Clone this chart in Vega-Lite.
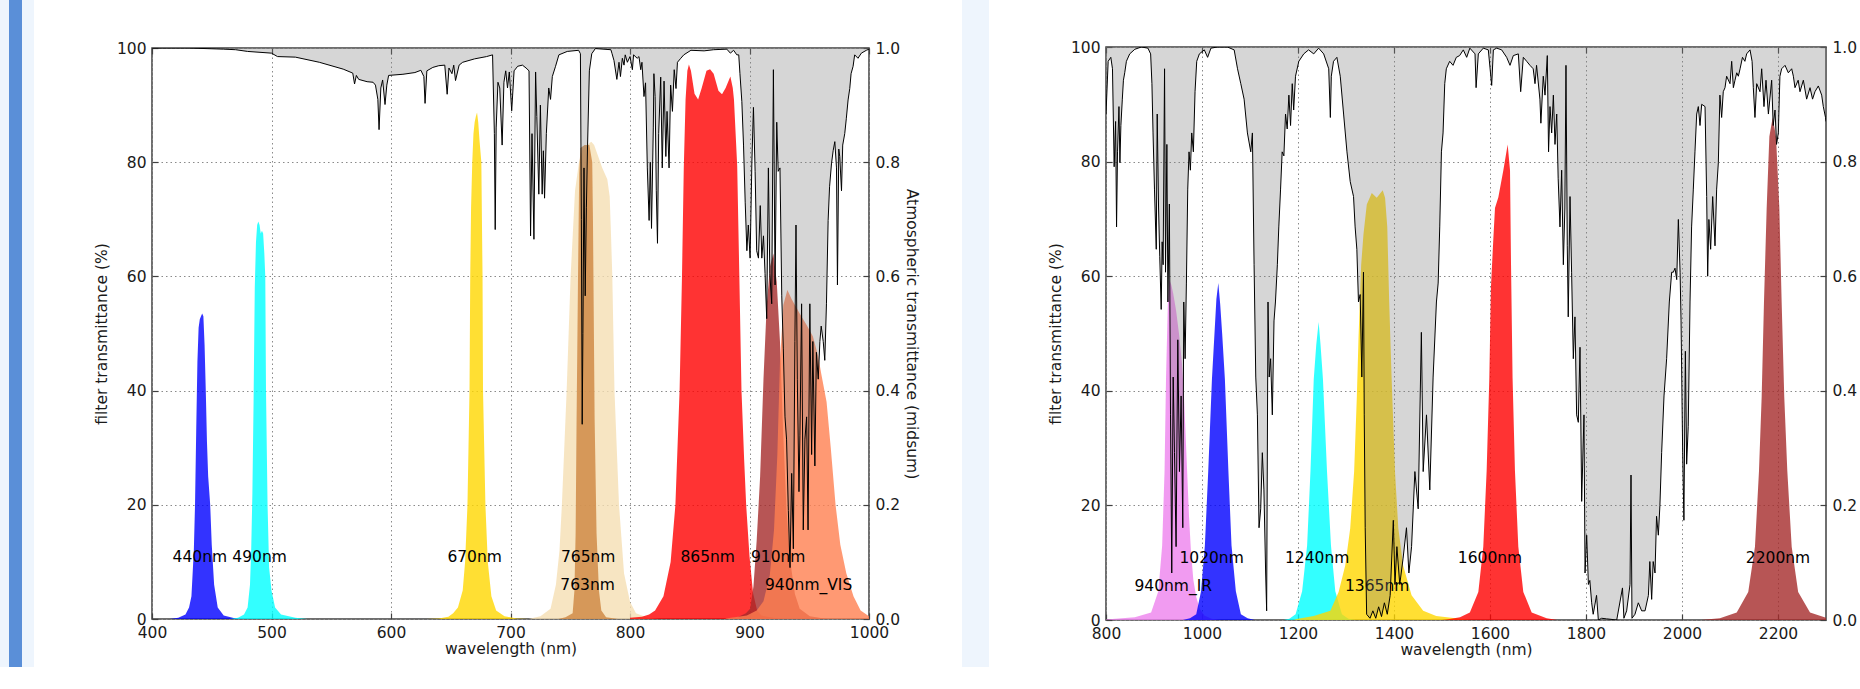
{
"$schema": "https://vega.github.io/schema/vega-lite/v6.json",
"background": "white",
"padding": 0,
"config": {
 "view": {"stroke": null},
 "font": "DejaVu Sans",
 "axis": {"domain": false, "labelFont": "DejaVu Sans", "labelFontSize": 15.5, "labelColor": "#1a1a1a", "titleFont": "DejaVu Sans", "titleFontSize": 15.5, "titleFontWeight": "normal", "titleColor": "#1a1a1a", "tickColor": "#404040", "tickSize": -6, "tickWidth": 1.2, "labelPadding": 12, "gridColor": "#8a8a8a", "gridDash": [1.5, 3], "gridWidth": 1, "labelFlush": false, "labelOverlap": false}
},
"datasets": {
 "atmL": [
{"wl":400,"t":1.0},{"wl":430,"t":1.0},{"wl":460,"t":0.998},{"wl":470,"t":0.997},{"wl":480,"t":0.994},{"wl":500,"t":0.991},{"wl":505,"t":0.985},{"wl":520,"t":0.984},{"wl":540,"t":0.975},{"wl":560,"t":0.963},{"wl":568,"t":0.956},{"wl":569.5,"t":0.937},{"wl":571,"t":0.952},{"wl":573,"t":0.945},{"wl":580,"t":0.941},{"wl":585,"t":0.94},{"wl":587,"t":0.935},{"wl":589,"t":0.91},{"wl":590,"t":0.857},{"wl":591.5,"t":0.93},{"wl":593,"t":0.944},{"wl":595,"t":0.901},{"wl":596.5,"t":0.935},{"wl":598,"t":0.952},{"wl":610,"t":0.954},{"wl":620,"t":0.957},{"wl":625,"t":0.961},{"wl":627.5,"t":0.95},{"wl":628.5,"t":0.903},{"wl":630,"t":0.96},{"wl":635,"t":0.966},{"wl":640,"t":0.969},{"wl":645,"t":0.97},{"wl":647,"t":0.919},{"wl":648.5,"t":0.965},{"wl":651,"t":0.955},{"wl":652.5,"t":0.97},{"wl":654,"t":0.943},{"wl":657,"t":0.97},{"wl":660,"t":0.975},{"wl":670,"t":0.981},{"wl":680,"t":0.985},{"wl":685,"t":0.988},{"wl":686.5,"t":0.85},{"wl":687.2,"t":0.682},{"wl":688,"t":0.86},{"wl":689.5,"t":0.94},{"wl":691,"t":0.93},{"wl":693,"t":0.83},{"wl":694.5,"t":0.94},{"wl":696,"t":0.96},{"wl":697.5,"t":0.93},{"wl":699,"t":0.958},{"wl":701,"t":0.89},{"wl":703,"t":0.96},{"wl":706,"t":0.968},{"wl":710,"t":0.97},{"wl":713,"t":0.965},{"wl":715.5,"t":0.96},{"wl":716.8,"t":0.671},{"wl":718,"t":0.85},{"wl":719.6,"t":0.665},{"wl":721,"t":0.958},{"wl":722,"t":0.88},{"wl":723.7,"t":0.744},{"wl":725,"t":0.9},{"wl":726.5,"t":0.744},{"wl":727.5,"t":0.82},{"wl":728.5,"t":0.737},{"wl":730,"t":0.85},{"wl":732,"t":0.93},{"wl":733.5,"t":0.91},{"wl":735,"t":0.95},{"wl":737.7,"t":0.968},{"wl":740.5,"t":0.988},{"wl":747.5,"t":0.994},{"wl":757,"t":0.996},{"wl":758.5,"t":0.99},{"wl":759.3,"t":0.7},{"wl":760,"t":0.341},{"wl":760.6,"t":0.5},{"wl":761.5,"t":0.79},{"wl":762.5,"t":0.566},{"wl":763.5,"t":0.72},{"wl":764.5,"t":0.83},{"wl":766,"t":0.96},{"wl":768,"t":0.99},{"wl":771,"t":0.999},{"wl":784,"t":0.997},{"wl":785,"t":0.99},{"wl":786.6,"t":0.978},{"wl":789,"t":0.945},{"wl":790.8,"t":0.975},{"wl":792,"t":0.95},{"wl":793.6,"t":0.982},{"wl":795,"t":0.97},{"wl":796,"t":0.988},{"wl":797.8,"t":0.975},{"wl":800,"t":0.985},{"wl":802,"t":0.962},{"wl":803,"t":0.988},{"wl":806,"t":0.982},{"wl":807.5,"t":0.985},{"wl":809,"t":0.962},{"wl":810,"t":0.975},{"wl":811.7,"t":0.915},{"wl":813,"t":0.939},{"wl":814.5,"t":0.79},{"wl":816,"t":0.698},{"wl":817,"t":0.8},{"wl":818,"t":0.684},{"wl":819.5,"t":0.86},{"wl":820,"t":0.955},{"wl":821,"t":0.915},{"wl":822,"t":0.75},{"wl":823,"t":0.658},{"wl":824,"t":0.85},{"wl":825.7,"t":0.949},{"wl":827,"t":0.79},{"wl":828.5,"t":0.942},{"wl":830,"t":0.81},{"wl":831,"t":0.889},{"wl":832.7,"t":0.79},{"wl":834,"t":0.935},{"wl":835.5,"t":0.889},{"wl":837,"t":0.962},{"wl":838.5,"t":0.929},{"wl":839.7,"t":0.975},{"wl":842.5,"t":0.982},{"wl":845,"t":0.988},{"wl":851,"t":0.996},{"wl":862,"t":0.995},{"wl":870,"t":0.997},{"wl":881,"t":0.998},{"wl":884,"t":0.991},{"wl":886.7,"t":0.996},{"wl":889.4,"t":0.988},{"wl":891,"t":0.988},{"wl":892,"t":0.955},{"wl":893.6,"t":0.906},{"wl":895,"t":0.83},{"wl":896.4,"t":0.73},{"wl":897.8,"t":0.645},{"wl":899,"t":0.69},{"wl":900.5,"t":0.632},{"wl":902,"t":0.8},{"wl":903.3,"t":0.896},{"wl":904.7,"t":0.784},{"wl":906,"t":0.645},{"wl":907.5,"t":0.632},{"wl":909,"t":0.724},{"wl":910.3,"t":0.632},{"wl":911.7,"t":0.671},{"wl":913,"t":0.605},{"wl":914.4,"t":0.526},{"wl":915.8,"t":0.79},{"wl":917,"t":0.605},{"wl":918.6,"t":0.552},{"wl":920,"t":0.962},{"wl":921.4,"t":0.585},{"wl":922.8,"t":0.87},{"wl":924,"t":0.784},{"wl":925.5,"t":0.79},{"wl":927,"t":0.566},{"wl":928.3,"t":0.473},{"wl":929.7,"t":0.354},{"wl":931,"t":0.315},{"wl":932.5,"t":0.19},{"wl":933.9,"t":0.09},{"wl":935.3,"t":0.255},{"wl":936.7,"t":0.123},{"wl":938,"t":0.486},{"wl":938.9,"t":0.69},{"wl":940,"t":0.42},{"wl":941.4,"t":0.223},{"wl":942.2,"t":0.322},{"wl":943.6,"t":0.552},{"wl":945,"t":0.156},{"wl":946.4,"t":0.315},{"wl":947.8,"t":0.354},{"wl":949,"t":0.156},{"wl":950.5,"t":0.552},{"wl":952,"t":0.288},{"wl":953,"t":0.486},{"wl":954.7,"t":0.268},{"wl":956,"t":0.467},{"wl":957.5,"t":0.42},{"wl":958.9,"t":0.486},{"wl":960,"t":0.513},{"wl":961.7,"t":0.486},{"wl":963,"t":0.453},{"wl":964.4,"t":0.552},{"wl":965.8,"t":0.698},{"wl":967,"t":0.757},{"wl":968.6,"t":0.797},{"wl":970,"t":0.82},{"wl":971.4,"t":0.836},{"wl":972.8,"t":0.79},{"wl":973.6,"t":0.585},{"wl":974.7,"t":0.823},{"wl":975.5,"t":0.81},{"wl":977,"t":0.75},{"wl":978,"t":0.83},{"wl":979.7,"t":0.85},{"wl":981,"t":0.876},{"wl":982.5,"t":0.909},{"wl":983.9,"t":0.929},{"wl":985,"t":0.955},{"wl":986.7,"t":0.968},{"wl":988,"t":0.988},{"wl":990.8,"t":0.982},{"wl":993.6,"t":0.991},{"wl":997.8,"t":0.996},{"wl":1000,"t":0.998}
 ],
 "atmR": [
{"wl":800,"t":0.883},{"wl":804.5,"t":0.975},{"wl":810,"t":0.982},{"wl":813.5,"t":0.962},{"wl":817,"t":0.791},{"wl":820,"t":0.87},{"wl":822,"t":0.686},{"wl":824,"t":0.817},{"wl":827,"t":0.896},{"wl":829,"t":0.798},{"wl":831,"t":0.863},{"wl":834,"t":0.909},{"wl":836.3,"t":0.942},{"wl":839,"t":0.955},{"wl":842.5,"t":0.975},{"wl":849.4,"t":0.988},{"wl":860,"t":0.996},{"wl":873.6,"t":1.0},{"wl":887.4,"t":0.998},{"wl":893,"t":0.988},{"wl":895.7,"t":0.936},{"wl":898,"t":0.85},{"wl":901,"t":0.752},{"wl":904.7,"t":0.647},{"wl":906.7,"t":0.883},{"wl":909.5,"t":0.719},{"wl":912,"t":0.634},{"wl":915,"t":0.542},{"wl":917,"t":0.66},{"wl":919,"t":0.62},{"wl":922,"t":0.962},{"wl":924,"t":0.607},{"wl":926.8,"t":0.83},{"wl":929,"t":0.555},{"wl":932,"t":0.726},{"wl":934.4,"t":0.358},{"wl":937,"t":0.082},{"wl":940,"t":0.424},{"wl":942.7,"t":0.292},{"wl":946,"t":0.128},{"wl":949.6,"t":0.489},{"wl":953,"t":0.259},{"wl":956.5,"t":0.391},{"wl":960,"t":0.161},{"wl":962,"t":0.555},{"wl":964.8,"t":0.456},{"wl":967.5,"t":0.588},{"wl":970.3,"t":0.752},{"wl":973,"t":0.817},{"wl":975.8,"t":0.785},{"wl":978.6,"t":0.85},{"wl":982,"t":0.817},{"wl":985.5,"t":0.922},{"wl":989,"t":0.975},{"wl":994.5,"t":0.988},{"wl":1004.8,"t":0.995},{"wl":1011.7,"t":0.982},{"wl":1018.6,"t":0.998},{"wl":1032.5,"t":1.0},{"wl":1053,"t":1.0},{"wl":1067,"t":0.995},{"wl":1074,"t":0.962},{"wl":1080.8,"t":0.936},{"wl":1087.7,"t":0.909},{"wl":1094.6,"t":0.85},{"wl":1101.6,"t":0.817},{"wl":1105,"t":0.85},{"wl":1108.5,"t":0.62},{"wl":1112,"t":0.424},{"wl":1115.4,"t":0.358},{"wl":1118.8,"t":0.161},{"wl":1122.3,"t":0.194},{"wl":1125.7,"t":0.292},{"wl":1129,"t":0.227},{"wl":1132.6,"t":0.082},{"wl":1134.7,"t":0.016},{"wl":1137.5,"t":0.555},{"wl":1140,"t":0.424},{"wl":1143,"t":0.456},{"wl":1146.5,"t":0.358},{"wl":1150,"t":0.522},{"wl":1153,"t":0.555},{"wl":1157,"t":0.62},{"wl":1160,"t":0.686},{"wl":1163.7,"t":0.752},{"wl":1167,"t":0.817},{"wl":1170.6,"t":0.81},{"wl":1174,"t":0.883},{"wl":1177.5,"t":0.857},{"wl":1181,"t":0.916},{"wl":1184.5,"t":0.863},{"wl":1188,"t":0.936},{"wl":1191,"t":0.89},{"wl":1194.8,"t":0.949},{"wl":1201.7,"t":0.975},{"wl":1212,"t":0.988},{"wl":1222,"t":0.995},{"wl":1232.8,"t":0.988},{"wl":1243,"t":0.998},{"wl":1253.5,"t":0.988},{"wl":1264,"t":0.962},{"wl":1267.4,"t":0.877},{"wl":1269.4,"t":0.949},{"wl":1274,"t":0.975},{"wl":1281,"t":0.982},{"wl":1288,"t":0.949},{"wl":1295,"t":0.883},{"wl":1302,"t":0.817},{"wl":1308.8,"t":0.765},{"wl":1315.7,"t":0.739},{"wl":1319,"t":0.686},{"wl":1322.6,"t":0.647},{"wl":1326,"t":0.555},{"wl":1329.5,"t":0.568},{"wl":1333,"t":0.424},{"wl":1336.4,"t":0.607},{"wl":1338,"t":0.358},{"wl":1340,"t":0.161},{"wl":1343,"t":0.01},{"wl":1350,"t":0.003},{"wl":1356,"t":0.016},{"wl":1362,"t":0.003},{"wl":1368,"t":0.023},{"wl":1374,"t":0.006},{"wl":1380,"t":0.03},{"wl":1386,"t":0.01},{"wl":1392,"t":0.043},{"wl":1398.6,"t":0.174},{"wl":1402,"t":0.062},{"wl":1406,"t":0.128},{"wl":1412,"t":0.062},{"wl":1419,"t":0.108},{"wl":1426,"t":0.161},{"wl":1431,"t":0.082},{"wl":1436.6,"t":0.128},{"wl":1443.5,"t":0.259},{"wl":1450.4,"t":0.194},{"wl":1457,"t":0.502},{"wl":1460.8,"t":0.259},{"wl":1467.7,"t":0.358},{"wl":1474.6,"t":0.227},{"wl":1481.5,"t":0.424},{"wl":1488.4,"t":0.555},{"wl":1492,"t":0.588},{"wl":1495.3,"t":0.686},{"wl":1498.8,"t":0.817},{"wl":1502.2,"t":0.85},{"wl":1505.7,"t":0.936},{"wl":1509,"t":0.962},{"wl":1516,"t":0.975},{"wl":1523,"t":0.968},{"wl":1529.8,"t":0.982},{"wl":1536.7,"t":0.985},{"wl":1544.4,"t":0.995},{"wl":1551.4,"t":0.982},{"wl":1558,"t":0.998},{"wl":1568.8,"t":0.988},{"wl":1571,"t":0.929},{"wl":1575.7,"t":0.988},{"wl":1586,"t":0.998},{"wl":1596.5,"t":0.995},{"wl":1603.5,"t":0.933},{"wl":1607,"t":0.995},{"wl":1614,"t":0.998},{"wl":1624.3,"t":0.995},{"wl":1634.7,"t":0.982},{"wl":1641.7,"t":0.968},{"wl":1648.6,"t":0.985},{"wl":1659,"t":0.988},{"wl":1663.9,"t":0.922},{"wl":1669.4,"t":0.982},{"wl":1676.4,"t":0.975},{"wl":1683.3,"t":0.968},{"wl":1690,"t":0.962},{"wl":1693.75,"t":0.936},{"wl":1697,"t":0.968},{"wl":1704,"t":0.909},{"wl":1706,"t":0.867},{"wl":1711,"t":0.949},{"wl":1714.6,"t":0.916},{"wl":1719.4,"t":0.985},{"wl":1722,"t":0.817},{"wl":1725,"t":0.896},{"wl":1728.5,"t":0.85},{"wl":1732,"t":0.916},{"wl":1735.4,"t":0.83},{"wl":1739,"t":0.883},{"wl":1742,"t":0.771},{"wl":1745.8,"t":0.686},{"wl":1749.3,"t":0.785},{"wl":1752.8,"t":0.62},{"wl":1756,"t":0.719},{"wl":1758.3,"t":0.968},{"wl":1761,"t":0.653},{"wl":1763,"t":0.529},{"wl":1766.7,"t":0.739},{"wl":1770,"t":0.607},{"wl":1773.6,"t":0.456},{"wl":1777,"t":0.529},{"wl":1780.5,"t":0.358},{"wl":1784,"t":0.345},{"wl":1787.5,"t":0.476},{"wl":1791,"t":0.207},{"wl":1795.8,"t":0.358},{"wl":1798,"t":0.082},{"wl":1801.4,"t":0.148},{"wl":1805,"t":0.062},{"wl":1808,"t":0.069},{"wl":1811.8,"t":0.03},{"wl":1815,"t":0.01},{"wl":1822,"t":0.043},{"wl":1825.7,"t":0.0},{"wl":1832.6,"t":0.003},{"wl":1843,"t":0.002},{"wl":1864,"t":0.0},{"wl":1876,"t":0.056},{"wl":1879,"t":0.003},{"wl":1884.7,"t":0.016},{"wl":1891.7,"t":0.062},{"wl":1893.75,"t":0.253},{"wl":1895.8,"t":0.003},{"wl":1902,"t":0.01},{"wl":1909,"t":0.03},{"wl":1916,"t":0.016},{"wl":1923,"t":0.016},{"wl":1930,"t":0.043},{"wl":1933,"t":0.102},{"wl":1936.8,"t":0.036},{"wl":1940,"t":0.102},{"wl":1943.75,"t":0.082},{"wl":1947,"t":0.181},{"wl":1950.7,"t":0.148},{"wl":1954,"t":0.2},{"wl":1957.6,"t":0.292},{"wl":1962.5,"t":0.391},{"wl":1968,"t":0.456},{"wl":1973.6,"t":0.555},{"wl":1978.5,"t":0.607},{"wl":1982,"t":0.607},{"wl":1985.4,"t":0.614},{"wl":1989,"t":0.594},{"wl":1992.4,"t":0.699},{"wl":1996,"t":0.607},{"wl":1998,"t":0.522},{"wl":2001.4,"t":0.292},{"wl":2004,"t":0.174},{"wl":2007,"t":0.469},{"wl":2009.7,"t":0.272},{"wl":2013,"t":0.338},{"wl":2016.7,"t":0.555},{"wl":2020,"t":0.686},{"wl":2023.6,"t":0.752},{"wl":2027,"t":0.817},{"wl":2030.6,"t":0.883},{"wl":2034,"t":0.896},{"wl":2037.5,"t":0.863},{"wl":2041,"t":0.9},{"wl":2048,"t":0.896},{"wl":2051.4,"t":0.739},{"wl":2053.5,"t":0.6},{"wl":2056,"t":0.699},{"wl":2059.7,"t":0.647},{"wl":2063.9,"t":0.739},{"wl":2068.75,"t":0.653},{"wl":2072.2,"t":0.752},{"wl":2075.7,"t":0.798},{"wl":2079,"t":0.916},{"wl":2082.6,"t":0.877},{"wl":2086,"t":0.922},{"wl":2089.6,"t":0.929},{"wl":2093,"t":0.949},{"wl":2100,"t":0.936},{"wl":2103.5,"t":0.975},{"wl":2107,"t":0.929},{"wl":2110.4,"t":0.942},{"wl":2114,"t":0.955},{"wl":2117.4,"t":0.949},{"wl":2121,"t":0.962},{"wl":2126,"t":0.982},{"wl":2131,"t":0.975},{"wl":2134.7,"t":0.988},{"wl":2141.7,"t":0.995},{"wl":2146,"t":0.975},{"wl":2148.6,"t":0.929},{"wl":2152,"t":0.877},{"wl":2155.6,"t":0.936},{"wl":2162.5,"t":0.922},{"wl":2166,"t":0.962},{"wl":2170.8,"t":0.896},{"wl":2175,"t":0.942},{"wl":2180,"t":0.883},{"wl":2186.8,"t":0.942},{"wl":2190,"t":0.863},{"wl":2193.75,"t":0.89},{"wl":2197,"t":0.83},{"wl":2200.7,"t":0.85},{"wl":2204,"t":0.949},{"wl":2207.6,"t":0.962},{"wl":2214.6,"t":0.968},{"wl":2221.5,"t":0.955},{"wl":2228.5,"t":0.962},{"wl":2232,"t":0.949},{"wl":2235.4,"t":0.929},{"wl":2242,"t":0.942},{"wl":2245.8,"t":0.922},{"wl":2252.8,"t":0.942},{"wl":2259.7,"t":0.909},{"wl":2266.7,"t":0.929},{"wl":2272,"t":0.909},{"wl":2277,"t":0.922},{"wl":2284,"t":0.932},{"wl":2291,"t":0.916},{"wl":2294.4,"t":0.896},{"wl":2299,"t":0.877},{"wl":2300,"t":0.87}
 ],
 "filtL": [
{"filter":"440nm","wl":415,"pct":0},{"filter":"440nm","wl":422,"pct":0.2},{"filter":"440nm","wl":428,"pct":0.8},{"filter":"440nm","wl":431,"pct":2},{"filter":"440nm","wl":433,"pct":4},{"filter":"440nm","wl":435,"pct":12},{"filter":"440nm","wl":436,"pct":20},{"filter":"440nm","wl":437,"pct":33},{"filter":"440nm","wl":438,"pct":45},{"filter":"440nm","wl":439,"pct":51},{"filter":"440nm","wl":440,"pct":52.5},{"filter":"440nm","wl":441,"pct":53},{"filter":"440nm","wl":442,"pct":53.5},{"filter":"440nm","wl":443,"pct":53},{"filter":"440nm","wl":444,"pct":48},{"filter":"440nm","wl":445,"pct":40},{"filter":"440nm","wl":446,"pct":31},{"filter":"440nm","wl":447,"pct":25},{"filter":"440nm","wl":448.7,"pct":20},{"filter":"440nm","wl":450,"pct":13},{"filter":"440nm","wl":452,"pct":6},{"filter":"440nm","wl":455,"pct":2},{"filter":"440nm","wl":460,"pct":0.6},{"filter":"440nm","wl":470,"pct":0.1},{"filter":"440nm","wl":480,"pct":0},
{"filter":"490nm","wl":465,"pct":0},{"filter":"490nm","wl":472,"pct":0.2},{"filter":"490nm","wl":477,"pct":0.8},{"filter":"490nm","wl":480,"pct":2},{"filter":"490nm","wl":482,"pct":6},{"filter":"490nm","wl":483,"pct":12},{"filter":"490nm","wl":484,"pct":22},{"filter":"490nm","wl":485,"pct":38},{"filter":"490nm","wl":486,"pct":58},{"filter":"490nm","wl":487,"pct":66},{"filter":"490nm","wl":488,"pct":69},{"filter":"490nm","wl":489,"pct":69.6},{"filter":"490nm","wl":490,"pct":69},{"filter":"490nm","wl":491,"pct":67.5},{"filter":"490nm","wl":492,"pct":68},{"filter":"490nm","wl":493,"pct":67.5},{"filter":"490nm","wl":494,"pct":64},{"filter":"490nm","wl":494.8,"pct":60},{"filter":"490nm","wl":495.4,"pct":40},{"filter":"490nm","wl":496.7,"pct":20},{"filter":"490nm","wl":498,"pct":9},{"filter":"490nm","wl":500,"pct":5},{"filter":"490nm","wl":503,"pct":2},{"filter":"490nm","wl":508,"pct":0.8},{"filter":"490nm","wl":520,"pct":0.2},{"filter":"490nm","wl":530,"pct":0},
{"filter":"670nm","wl":630,"pct":0},{"filter":"670nm","wl":640,"pct":0.1},{"filter":"670nm","wl":648,"pct":0.4},{"filter":"670nm","wl":652,"pct":1},{"filter":"670nm","wl":656,"pct":2},{"filter":"670nm","wl":660,"pct":5},{"filter":"670nm","wl":662,"pct":10},{"filter":"670nm","wl":664,"pct":20},{"filter":"670nm","wl":665.7,"pct":40},{"filter":"670nm","wl":666.3,"pct":60},{"filter":"670nm","wl":667,"pct":72},{"filter":"670nm","wl":668,"pct":80},{"filter":"670nm","wl":669,"pct":85},{"filter":"670nm","wl":670,"pct":87},{"filter":"670nm","wl":671,"pct":88},{"filter":"670nm","wl":672,"pct":88.7},{"filter":"670nm","wl":673,"pct":87},{"filter":"670nm","wl":674,"pct":84},{"filter":"670nm","wl":675.6,"pct":80},{"filter":"670nm","wl":676.6,"pct":60},{"filter":"670nm","wl":677,"pct":40},{"filter":"670nm","wl":679,"pct":20},{"filter":"670nm","wl":681,"pct":10},{"filter":"670nm","wl":684,"pct":4},{"filter":"670nm","wl":688,"pct":1.5},{"filter":"670nm","wl":695,"pct":0.5},{"filter":"670nm","wl":705,"pct":0.1},{"filter":"670nm","wl":715,"pct":0},
{"filter":"765nm","wl":715,"pct":0},{"filter":"765nm","wl":725,"pct":0.5},{"filter":"765nm","wl":733.5,"pct":1.8},{"filter":"765nm","wl":738,"pct":6},{"filter":"765nm","wl":741,"pct":12},{"filter":"765nm","wl":743,"pct":20},{"filter":"765nm","wl":747,"pct":40},{"filter":"765nm","wl":750.3,"pct":60},{"filter":"765nm","wl":754,"pct":75},{"filter":"765nm","wl":757.3,"pct":80},{"filter":"765nm","wl":760,"pct":82},{"filter":"765nm","wl":764,"pct":83},{"filter":"765nm","wl":767.6,"pct":83.6},{"filter":"765nm","wl":770,"pct":83},{"filter":"765nm","wl":772.6,"pct":81.5},{"filter":"765nm","wl":776.8,"pct":79},{"filter":"765nm","wl":781,"pct":77},{"filter":"765nm","wl":783,"pct":74},{"filter":"765nm","wl":784,"pct":68},{"filter":"765nm","wl":785.2,"pct":60},{"filter":"765nm","wl":787,"pct":40},{"filter":"765nm","wl":790.8,"pct":20},{"filter":"765nm","wl":795,"pct":8},{"filter":"765nm","wl":800,"pct":3},{"filter":"765nm","wl":805,"pct":1},{"filter":"765nm","wl":815,"pct":0.2},{"filter":"765nm","wl":825,"pct":0},
{"filter":"763nm","wl":740,"pct":0},{"filter":"763nm","wl":746,"pct":0.3},{"filter":"763nm","wl":752,"pct":1},{"filter":"763nm","wl":753.5,"pct":5},{"filter":"763nm","wl":754.5,"pct":15},{"filter":"763nm","wl":755.3,"pct":35},{"filter":"763nm","wl":756.5,"pct":60},{"filter":"763nm","wl":757.5,"pct":78},{"filter":"763nm","wl":758.5,"pct":82.5},{"filter":"763nm","wl":762,"pct":83},{"filter":"763nm","wl":766,"pct":83},{"filter":"763nm","wl":768.4,"pct":80},{"filter":"763nm","wl":769,"pct":70},{"filter":"763nm","wl":770.4,"pct":35},{"filter":"763nm","wl":772,"pct":15},{"filter":"763nm","wl":774,"pct":5},{"filter":"763nm","wl":776,"pct":1.5},{"filter":"763nm","wl":780,"pct":0.3},{"filter":"763nm","wl":790,"pct":0},
{"filter":"865nm","wl":800,"pct":0.2},{"filter":"865nm","wl":810,"pct":0.4},{"filter":"865nm","wl":816,"pct":0.8},{"filter":"865nm","wl":821,"pct":1.5},{"filter":"865nm","wl":828,"pct":4},{"filter":"865nm","wl":834,"pct":10},{"filter":"865nm","wl":838,"pct":20},{"filter":"865nm","wl":841.5,"pct":40},{"filter":"865nm","wl":843.5,"pct":60},{"filter":"865nm","wl":845,"pct":79},{"filter":"865nm","wl":846.5,"pct":91},{"filter":"865nm","wl":848,"pct":96},{"filter":"865nm","wl":849.3,"pct":97.1},{"filter":"865nm","wl":851,"pct":96},{"filter":"865nm","wl":854,"pct":92},{"filter":"865nm","wl":857,"pct":91},{"filter":"865nm","wl":860,"pct":93},{"filter":"865nm","wl":864,"pct":96},{"filter":"865nm","wl":867,"pct":96.3},{"filter":"865nm","wl":870,"pct":95.5},{"filter":"865nm","wl":874,"pct":92.5},{"filter":"865nm","wl":877,"pct":91.9},{"filter":"865nm","wl":880,"pct":93},{"filter":"865nm","wl":884,"pct":95},{"filter":"865nm","wl":886,"pct":93},{"filter":"865nm","wl":887,"pct":91},{"filter":"865nm","wl":889.7,"pct":79.4},{"filter":"865nm","wl":891.5,"pct":60},{"filter":"865nm","wl":893.3,"pct":40},{"filter":"865nm","wl":895.5,"pct":28},{"filter":"865nm","wl":897.2,"pct":20},{"filter":"865nm","wl":900,"pct":11},{"filter":"865nm","wl":903,"pct":4.5},{"filter":"865nm","wl":906.4,"pct":1.5},{"filter":"865nm","wl":910,"pct":0.6},{"filter":"865nm","wl":920,"pct":0.2},{"filter":"865nm","wl":930,"pct":0},
{"filter":"910nm","wl":880,"pct":0},{"filter":"910nm","wl":890,"pct":0.3},{"filter":"910nm","wl":897,"pct":1},{"filter":"910nm","wl":900.5,"pct":1.8},{"filter":"910nm","wl":903.3,"pct":5.7},{"filter":"910nm","wl":906,"pct":13.7},{"filter":"910nm","wl":908.9,"pct":25},{"filter":"910nm","wl":911.7,"pct":42},{"filter":"910nm","wl":914.4,"pct":55},{"filter":"910nm","wl":917.2,"pct":61.8},{"filter":"910nm","wl":920,"pct":64},{"filter":"910nm","wl":922.8,"pct":59},{"filter":"910nm","wl":925.5,"pct":48.6},{"filter":"910nm","wl":928.3,"pct":32},{"filter":"910nm","wl":931,"pct":19},{"filter":"910nm","wl":933.9,"pct":10.4},{"filter":"910nm","wl":938,"pct":4.4},{"filter":"910nm","wl":942,"pct":1.8},{"filter":"910nm","wl":950.5,"pct":0.5},{"filter":"910nm","wl":965,"pct":0},
{"filter":"940nm_VIS","wl":880,"pct":0.1},{"filter":"940nm_VIS","wl":897.8,"pct":0.6},{"filter":"940nm_VIS","wl":906,"pct":1.5},{"filter":"940nm_VIS","wl":911.7,"pct":3.1},{"filter":"940nm_VIS","wl":917,"pct":7.7},{"filter":"940nm_VIS","wl":920.5,"pct":15.6},{"filter":"940nm_VIS","wl":923.3,"pct":28.8},{"filter":"940nm_VIS","wl":925.5,"pct":45},{"filter":"940nm_VIS","wl":928.3,"pct":55},{"filter":"940nm_VIS","wl":931.7,"pct":57.6},{"filter":"940nm_VIS","wl":935.3,"pct":56},{"filter":"940nm_VIS","wl":942,"pct":53.5},{"filter":"940nm_VIS","wl":947.8,"pct":51.5},{"filter":"940nm_VIS","wl":953,"pct":49.5},{"filter":"940nm_VIS","wl":957.5,"pct":46},{"filter":"940nm_VIS","wl":960,"pct":43},{"filter":"940nm_VIS","wl":964.5,"pct":38},{"filter":"940nm_VIS","wl":968,"pct":30},{"filter":"940nm_VIS","wl":972,"pct":20},{"filter":"940nm_VIS","wl":976,"pct":13},{"filter":"940nm_VIS","wl":981,"pct":8},{"filter":"940nm_VIS","wl":987,"pct":4},{"filter":"940nm_VIS","wl":993,"pct":1.5},{"filter":"940nm_VIS","wl":1000,"pct":0.5}
 ],
 "filtR": [
{"filter":"940nm_IR","wl":800,"pct":0.1},{"filter":"940nm_IR","wl":820,"pct":0.2},{"filter":"940nm_IR","wl":860,"pct":0.5},{"filter":"940nm_IR","wl":894,"pct":1.3},{"filter":"940nm_IR","wl":909,"pct":5},{"filter":"940nm_IR","wl":917,"pct":13},{"filter":"940nm_IR","wl":922,"pct":26},{"filter":"940nm_IR","wl":925,"pct":42},{"filter":"940nm_IR","wl":928.8,"pct":55},{"filter":"940nm_IR","wl":932,"pct":59.4},{"filter":"940nm_IR","wl":936,"pct":58.5},{"filter":"940nm_IR","wl":940,"pct":57},{"filter":"940nm_IR","wl":946,"pct":54},{"filter":"940nm_IR","wl":952,"pct":50},{"filter":"940nm_IR","wl":958,"pct":45},{"filter":"940nm_IR","wl":962,"pct":40},{"filter":"940nm_IR","wl":966,"pct":32},{"filter":"940nm_IR","wl":969,"pct":26},{"filter":"940nm_IR","wl":973,"pct":18},{"filter":"940nm_IR","wl":977,"pct":12},{"filter":"940nm_IR","wl":982,"pct":7},{"filter":"940nm_IR","wl":988,"pct":4},{"filter":"940nm_IR","wl":995,"pct":2},{"filter":"940nm_IR","wl":1005,"pct":0.8},{"filter":"940nm_IR","wl":1020,"pct":0.2},{"filter":"940nm_IR","wl":1040,"pct":0},
{"filter":"1020nm","wl":960,"pct":0},{"filter":"1020nm","wl":975,"pct":0.3},{"filter":"1020nm","wl":988,"pct":1},{"filter":"1020nm","wl":998,"pct":5},{"filter":"1020nm","wl":1006,"pct":13},{"filter":"1020nm","wl":1013,"pct":26},{"filter":"1020nm","wl":1020.7,"pct":42},{"filter":"1020nm","wl":1026,"pct":50},{"filter":"1020nm","wl":1030,"pct":56},{"filter":"1020nm","wl":1034,"pct":58.8},{"filter":"1020nm","wl":1038,"pct":55},{"filter":"1020nm","wl":1042,"pct":50},{"filter":"1020nm","wl":1047.7,"pct":42},{"filter":"1020nm","wl":1055,"pct":26},{"filter":"1020nm","wl":1061.5,"pct":13},{"filter":"1020nm","wl":1070.5,"pct":5},{"filter":"1020nm","wl":1081,"pct":1},{"filter":"1020nm","wl":1095,"pct":0.3},{"filter":"1020nm","wl":1110,"pct":0},
{"filter":"1240nm","wl":1170,"pct":0},{"filter":"1240nm","wl":1182,"pct":0.2},{"filter":"1240nm","wl":1195,"pct":1},{"filter":"1240nm","wl":1208.6,"pct":5},{"filter":"1240nm","wl":1219,"pct":13},{"filter":"1240nm","wl":1226,"pct":26},{"filter":"1240nm","wl":1232.8,"pct":42},{"filter":"1240nm","wl":1238,"pct":48},{"filter":"1240nm","wl":1243,"pct":52},{"filter":"1240nm","wl":1247,"pct":48},{"filter":"1240nm","wl":1252,"pct":42},{"filter":"1240nm","wl":1260.4,"pct":26},{"filter":"1240nm","wl":1268.7,"pct":13},{"filter":"1240nm","wl":1277.7,"pct":5},{"filter":"1240nm","wl":1291.5,"pct":1},{"filter":"1240nm","wl":1305,"pct":0.2},{"filter":"1240nm","wl":1320,"pct":0},
{"filter":"1365nm","wl":1190,"pct":0},{"filter":"1365nm","wl":1200,"pct":0.2},{"filter":"1365nm","wl":1232.8,"pct":0.7},{"filter":"1365nm","wl":1267.4,"pct":1.6},{"filter":"1365nm","wl":1284.6,"pct":4.9},{"filter":"1365nm","wl":1298.4,"pct":9.5},{"filter":"1365nm","wl":1308.8,"pct":16},{"filter":"1365nm","wl":1317,"pct":26},{"filter":"1365nm","wl":1322.6,"pct":39},{"filter":"1365nm","wl":1326,"pct":49},{"filter":"1365nm","wl":1331.6,"pct":62},{"filter":"1365nm","wl":1336.4,"pct":67.3},{"filter":"1365nm","wl":1343.3,"pct":72.5},{"filter":"1365nm","wl":1353.7,"pct":74.5},{"filter":"1365nm","wl":1364,"pct":73.7},{"filter":"1365nm","wl":1376.5,"pct":75},{"filter":"1365nm","wl":1381.4,"pct":73.7},{"filter":"1365nm","wl":1386,"pct":68.6},{"filter":"1365nm","wl":1390,"pct":55.5},{"filter":"1365nm","wl":1395,"pct":42.3},{"filter":"1365nm","wl":1402,"pct":26},{"filter":"1365nm","wl":1409,"pct":16},{"filter":"1365nm","wl":1419,"pct":9.5},{"filter":"1365nm","wl":1436.6,"pct":4.3},{"filter":"1365nm","wl":1460.8,"pct":1.6},{"filter":"1365nm","wl":1488,"pct":0.7},{"filter":"1365nm","wl":1537,"pct":0.2},{"filter":"1365nm","wl":1560,"pct":0},
{"filter":"1600nm","wl":1500,"pct":0},{"filter":"1600nm","wl":1510,"pct":0.1},{"filter":"1600nm","wl":1537.5,"pct":0.5},{"filter":"1600nm","wl":1558,"pct":1.3},{"filter":"1600nm","wl":1575.7,"pct":4.9},{"filter":"1600nm","wl":1586,"pct":12.8},{"filter":"1600nm","wl":1593,"pct":26},{"filter":"1600nm","wl":1598.6,"pct":42.3},{"filter":"1600nm","wl":1602,"pct":58.2},{"filter":"1600nm","wl":1607,"pct":66.6},{"filter":"1600nm","wl":1610.4,"pct":71.9},{"filter":"1600nm","wl":1617.4,"pct":73.8},{"filter":"1600nm","wl":1627.8,"pct":78.5},{"filter":"1600nm","wl":1636.8,"pct":83},{"filter":"1600nm","wl":1641.7,"pct":78.5},{"filter":"1600nm","wl":1643.8,"pct":62},{"filter":"1600nm","wl":1647,"pct":42.3},{"filter":"1600nm","wl":1652,"pct":26},{"filter":"1600nm","wl":1659,"pct":12.8},{"filter":"1600nm","wl":1669.4,"pct":4.9},{"filter":"1600nm","wl":1686.8,"pct":1.3},{"filter":"1600nm","wl":1718,"pct":0.3},{"filter":"1600nm","wl":1740,"pct":0},
{"filter":"2200nm","wl":2040,"pct":0},{"filter":"2200nm","wl":2050,"pct":0.1},{"filter":"2200nm","wl":2079,"pct":0.3},{"filter":"2200nm","wl":2114,"pct":1.3},{"filter":"2200nm","wl":2138,"pct":4.9},{"filter":"2200nm","wl":2152,"pct":12.8},{"filter":"2200nm","wl":2160.4,"pct":26},{"filter":"2200nm","wl":2166,"pct":39},{"filter":"2200nm","wl":2170.8,"pct":55.5},{"filter":"2200nm","wl":2176.4,"pct":71.9},{"filter":"2200nm","wl":2182,"pct":84.4},{"filter":"2200nm","wl":2188.9,"pct":87.7},{"filter":"2200nm","wl":2195.8,"pct":84.4},{"filter":"2200nm","wl":2202.8,"pct":71.9},{"filter":"2200nm","wl":2207.6,"pct":55.5},{"filter":"2200nm","wl":2213,"pct":39},{"filter":"2200nm","wl":2219.4,"pct":26},{"filter":"2200nm","wl":2228.5,"pct":12.8},{"filter":"2200nm","wl":2242,"pct":4.9},{"filter":"2200nm","wl":2266.7,"pct":1.3},{"filter":"2200nm","wl":2300,"pct":0.4}
 ],
 "labL": [
{"label":"440nm","wl":440,"pct":10},{"label":"490nm","wl":490,"pct":10},{"label":"670nm","wl":670,"pct":10},{"label":"765nm","wl":765,"pct":10},{"label":"763nm","wl":764.5,"pct":5},{"label":"865nm","wl":865,"pct":10},{"label":"910nm","wl":924,"pct":10},{"label":"940nm_VIS","wl":949.5,"pct":5}
 ],
 "labR": [
{"label":"940nm_IR","wl":940,"pct":5},{"label":"1020nm","wl":1020,"pct":10},{"label":"1240nm","wl":1240,"pct":10},{"label":"1365nm","wl":1365,"pct":5},{"label":"1600nm","wl":1600,"pct":10},{"label":"2200nm","wl":2200,"pct":10}
 ]
},
"spacing": 0,
"bounds": "flush",
"center": true,
"resolve": {"scale": {"color": "independent"}},
"hconcat": [
 {"width": 9, "height": 667, "view": {"fill": "#eef5fd", "stroke": null}, "data": {"values": [{}]}, "mark": {"type": "point", "opacity": 0}, "encoding": {}},
 {"width": 13, "height": 667, "view": {"fill": "#5a8fd8", "stroke": null}, "data": {"values": [{}]}, "mark": {"type": "point", "opacity": 0}, "encoding": {}},
 {"width": 12, "height": 667, "view": {"fill": "#eef5fd", "stroke": null}, "data": {"values": [{}]}, "mark": {"type": "point", "opacity": 0}, "encoding": {}},
 {"width": 118, "height": 10, "data": {"values": [{}]}, "mark": {"type": "point", "opacity": 0}, "encoding": {}},
 {"width": 717, "height": 571,
    "view": {"stroke": "#404040", "strokeWidth": 1.5},
    "resolve": {"scale": {"y": "independent"}, "axis": {"x": "independent"}},
    "layer": [
     {"layer": [
       {"data": {"name": "filtL"}, "mark": {"type": "area", "opacity": 0.8, "clip": true},
        "encoding": {
         "x": {"field": "wl", "type": "quantitative", "scale": {"domain": [400, 1000], "nice": false, "zero": false}, "axis": {"values": [400, 500, 600, 700, 800, 900, 1000], "format": "d", "title": "wavelength (nm)", "grid": true, "titlePadding": 1}},
         "y": {"field": "pct", "type": "quantitative", "stack": null, "scale": {"domain": [0, 100], "nice": false}, "axis": {"orient": "left", "values": [0, 20, 40, 60, 80, 100], "format": "d", "title": "filter transmittance (%)", "grid": true, "titlePadding": 7}},
         "color": {"field": "filter", "type": "nominal", "scale": {"domain": ["440nm", "490nm", "670nm", "765nm", "763nm", "865nm", "910nm", "940nm_VIS"], "range": ["#0000ff", "#00ffff", "#ffd700", "#f5deb3", "#cd853f", "#ff0000", "#a52a2a", "#ff7f50"]}, "legend": null}
        }},
       {"data": {"name": "labL"}, "mark": {"type": "text", "align": "center", "baseline": "alphabetic", "fontSize": 15.5, "font": "DejaVu Sans", "color": "#000000"},
        "encoding": {"x": {"field": "wl", "type": "quantitative"}, "y": {"field": "pct", "type": "quantitative"}, "text": {"field": "label"}}}
     ]},
     {"layer": [
       {"data": {"name": "atmL"}, "mark": {"type": "area", "color": "#808080", "opacity": 0.32, "clip": true},
        "encoding": {"x": {"field": "wl", "type": "quantitative", "axis": {"orient": "top", "values": [400, 500, 600, 700, 800, 900, 1000], "labels": false, "grid": false, "title": null}},
         "y": {"field": "t", "type": "quantitative", "scale": {"domain": [0, 1], "nice": false}, "axis": {"orient": "right", "values": [0, 0.2, 0.4, 0.6, 0.8, 1], "format": ".1f", "title": "Atmospheric transmittance (midsum)", "grid": false, "titlePadding": 4}},
         "y2": {"datum": 1}}},
       {"data": {"name": "atmL"}, "mark": {"type": "line", "color": "#000000", "strokeWidth": 1, "clip": true},
        "encoding": {"x": {"field": "wl", "type": "quantitative"}, "y": {"field": "t", "type": "quantitative"}}}
     ]}
    ]},
 {"width": 93, "height": 10, "data": {"values": [{}]}, "mark": {"type": "point", "opacity": 0}, "encoding": {}},
 {"width": 27, "height": 667, "view": {"fill": "#eef5fd", "stroke": null}, "data": {"values": [{}]}, "mark": {"type": "point", "opacity": 0}, "encoding": {}},
 {"width": 117, "height": 10, "data": {"values": [{}]}, "mark": {"type": "point", "opacity": 0}, "encoding": {}},
 {"width": 720, "height": 573,
    "view": {"stroke": "#404040", "strokeWidth": 1.5},
    "resolve": {"scale": {"y": "independent"}, "axis": {"x": "independent"}},
    "layer": [
     {"layer": [
       {"data": {"name": "filtR"}, "mark": {"type": "area", "opacity": 0.8, "clip": true},
        "encoding": {
         "x": {"field": "wl", "type": "quantitative", "scale": {"domain": [800, 2300], "nice": false, "zero": false}, "axis": {"values": [800, 1000, 1200, 1400, 1600, 1800, 2000, 2200], "format": "d", "title": "wavelength (nm)", "grid": true, "titlePadding": 1}},
         "y": {"field": "pct", "type": "quantitative", "stack": null, "scale": {"domain": [0, 100], "nice": false}, "axis": {"orient": "left", "values": [0, 20, 40, 60, 80, 100], "format": "d", "title": "filter transmittance (%)", "grid": true, "titlePadding": 7}},
         "color": {"field": "filter", "type": "nominal", "scale": {"domain": ["940nm_IR", "1020nm", "1240nm", "1365nm", "1600nm", "2200nm"], "range": ["#ee82ee", "#0000ff", "#00ffff", "#ffd700", "#ff0000", "#a52a2a"]}, "legend": null}
        }},
       {"data": {"name": "labR"}, "mark": {"type": "text", "align": "center", "baseline": "alphabetic", "fontSize": 15.5, "font": "DejaVu Sans", "color": "#000000"},
        "encoding": {"x": {"field": "wl", "type": "quantitative"}, "y": {"field": "pct", "type": "quantitative"}, "text": {"field": "label"}}}
     ]},
     {"layer": [
       {"data": {"name": "atmR"}, "mark": {"type": "area", "color": "#808080", "opacity": 0.32, "clip": true},
        "encoding": {"x": {"field": "wl", "type": "quantitative", "axis": {"orient": "top", "values": [800, 1000, 1200, 1400, 1600, 1800, 2000, 2200], "labels": false, "grid": false, "title": null}},
         "y": {"field": "t", "type": "quantitative", "scale": {"domain": [0, 1], "nice": false}, "axis": {"orient": "right", "values": [0, 0.2, 0.4, 0.6, 0.8, 1], "format": ".1f", "title": "Atmospheric transmittance (midsum)", "grid": false, "titlePadding": 4}},
         "y2": {"datum": 1}}},
       {"data": {"name": "atmR"}, "mark": {"type": "line", "color": "#000000", "strokeWidth": 1, "clip": true},
        "encoding": {"x": {"field": "wl", "type": "quantitative"}, "y": {"field": "t", "type": "quantitative"}}}
     ]}
    ]}
]
}
